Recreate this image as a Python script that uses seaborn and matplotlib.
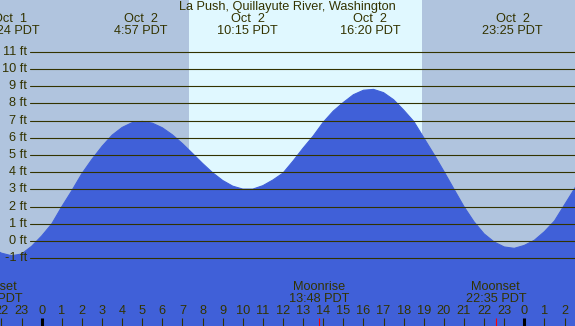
import numpy as np
import matplotlib
matplotlib.use("Agg")
import matplotlib.pyplot as plt
import matplotlib.transforms as mtransforms
import seaborn as sns

sns.set_style("white")
plt.rcParams['font.family'] = ['Liberation Sans', 'DejaVu Sans']

# tide height (ft) read every half hour, hours counted from Oct 2 00:00
hours = [-2.5, -2.0, -1.5, -1.0, -0.5, 0.0, 0.5, 1.0, 1.5, 2.0,
         2.5, 3.0, 3.5, 4.0, 4.5, 5.0, 5.5, 6.0, 6.5, 7.0,
         7.5, 8.0, 8.5, 9.0, 9.5, 10.0, 10.5, 11.0, 11.5, 12.0,
         12.5, 13.0, 13.5, 14.0, 14.5, 15.0, 15.5, 16.0, 16.5, 17.0,
         17.5, 18.0, 18.5, 19.0, 19.5, 20.0, 20.5, 21.0, 21.5, 22.0,
         22.5, 23.0, 23.5, 24.0, 24.5, 25.0, 25.5, 26.0, 26.5, 27.0]
height_ft = [-0.4, -0.7, -0.85, -0.75, -0.3, 0.3, 1.0, 2.0, 2.93, 3.92,
             4.75, 5.5, 6.15, 6.6, 6.88, 6.95, 6.85, 6.58, 6.17, 5.66,
             5.09, 4.51, 3.97, 3.52, 3.19, 3.02, 3.02, 3.22, 3.55, 3.95,
             4.65, 5.4, 6.1, 6.9, 7.55, 8.05, 8.5, 8.76, 8.81, 8.62,
             8.21, 7.61, 6.95, 6.0, 5.05, 4.05, 3.02, 2.0, 1.12, 0.42,
             -0.05, -0.34, -0.42, -0.25, 0.05, 0.55, 1.17, 2.11, 3.05, 4.0]

# high / low tide events
tide_times = [-1.6, 4.95, 10.25, 16.333, 23.417]
tide_dates = ["Oct  1", "Oct  2", "Oct  2", "Oct  2", "Oct  2"]
tide_labels = ["22:24 PDT", "4:57 PDT", "10:15 PDT", "16:20 PDT", "23:25 PDT"]

# moon events
moon_times = [-2.47, 13.8, 22.583]
moon_names = ["Moonset", "Moonrise", "Moonset"]
moon_labels = ["21:32 PDT", "13:48 PDT", "22:35 PDT"]

sunrise, sunset = 7.32, 18.9
ft_levels = list(range(-1, 12))
hour_ticks = list(range(-2, 27))

night = '#B0C4DE'
day = '#E0F8FF'
water = '#4060D8'
ink = '#333300'
fs = 9.2

fig = plt.figure(figsize=(5.75, 3.26), dpi=100)
fig.patch.set_facecolor(night)
ax = fig.add_axes([0, 0, 1, 1])
ax.set_xlim(-2.074, 26.52)
ax.set_ylim(-4.93, 14.0)
ax.axis('off')

ax.axvspan(sunrise, sunset, color=day, lw=0, zorder=1)
ax.fill_between(hours, height_ft, -10, color=water, lw=0, zorder=2)
sns.lineplot(x=hours, y=height_ft, ax=ax, color=water, lw=0.8, zorder=2)

ytr = mtransforms.blended_transform_factory(ax.transAxes, ax.transData)
for lv in ft_levels:
    ax.axhline(lv, xmin=29.5 / 575, xmax=1, color=ink, lw=0.8, zorder=3)
    ax.text(27 / 575, lv, f"{lv} ft", transform=ytr,
            ha='right', va='center', fontsize=fs, color=ink, zorder=4)

tr = mtransforms.blended_transform_factory(ax.transData, ax.transAxes)
H = 326.0

ax.text(0.5, 1 - 7 / H, "La Push, Quillayute River, Washington", transform=ax.transAxes,
        ha='center', va='center', fontsize=fs, color=ink)
for t, d, lab in zip(tide_times, tide_dates, tide_labels):
    ax.text(t, 1 - 19 / H, d, transform=tr, ha='center', va='center', fontsize=fs, color=ink)
    ax.text(t, 1 - 30.5 / H, lab, transform=tr, ha='center', va='center', fontsize=fs, color=ink)

for t, n, lab in zip(moon_times, moon_names, moon_labels):
    ax.text(t, 1 - 287 / H, n, transform=tr, ha='center', va='center', fontsize=fs, color=ink)
    ax.text(t, 1 - 299 / H, lab, transform=tr, ha='center', va='center', fontsize=fs, color=ink)

for h in hour_ticks:
    ax.text(h, 1 - 311.5 / H, str(h % 24), transform=tr, ha='center', va='center', fontsize=fs, color=ink)
    if h % 24 == 0:
        ax.vlines(h, 0, 8 / H, transform=tr, color='black', lw=2.2, zorder=5)
    else:
        ax.vlines(h, 0, 8 / H, transform=tr, color=ink, lw=0.8, zorder=5)
for t in moon_times:
    ax.vlines(t, 0, 8 / H, transform=tr, color='red', lw=0.8, zorder=6)

fig.savefig("out.png", dpi=100, facecolor=night)
